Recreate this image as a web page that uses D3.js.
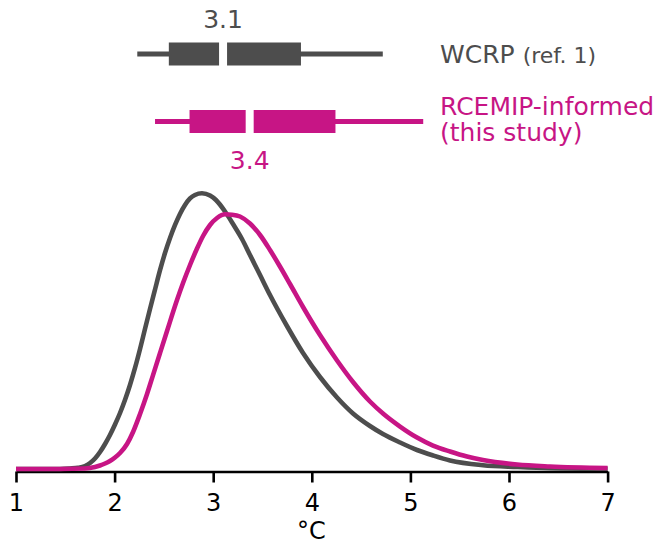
<!DOCTYPE html>
<html>
<head>
<meta charset="utf-8">
<script src="https://cdn.jsdelivr.net/npm/d3@7"></script>
<style>
  html, body { margin: 0; padding: 0; background: #fff; }
  svg { display: block; font-family: "DejaVu Sans", sans-serif; }
</style>
</head>
<body>
<div id="chart"></div>
<script>
// ECS probability densities (°C, density)
const wcrpX = [1.0, 1.446, 1.548, 1.629, 1.700, 1.751, 1.801, 1.852, 1.903, 1.953, 2.004, 2.055, 2.105, 2.156, 2.207, 2.258, 2.308, 2.359, 2.410, 2.460, 2.511, 2.562, 2.613, 2.663, 2.714, 2.765, 2.815, 2.886, 2.968, 3.028, 3.120, 3.201, 3.292, 3.373, 3.475, 3.576, 3.748, 3.911, 4.083, 4.256, 4.418, 4.590, 4.722, 4.895, 5.067, 5.229, 5.402, 5.736, 6.081, 6.416, 7.0];
const wcrpY = [0, 0, 0.0009, 0.0022, 0.0055, 0.0110, 0.0192, 0.0311, 0.0457, 0.0621, 0.0813, 0.1023, 0.1260, 0.1534, 0.1845, 0.2192, 0.2557, 0.2922, 0.3279, 0.3626, 0.3945, 0.4219, 0.4457, 0.4658, 0.4822, 0.4941, 0.5005, 0.5036, 0.4995, 0.4913, 0.4703, 0.4475, 0.4201, 0.3909, 0.3543, 0.3178, 0.2612, 0.2119, 0.1680, 0.1306, 0.1014, 0.0785, 0.0639, 0.0484, 0.0347, 0.0247, 0.0155, 0.0069, 0.0037, 0.0015, 0.0004];

const rcemipX = [1.0, 1.446, 1.700, 1.801, 1.852, 1.903, 1.953, 2.004, 2.055, 2.126, 2.187, 2.258, 2.329, 2.389, 2.460, 2.531, 2.633, 2.694, 2.765, 2.836, 2.897, 2.968, 3.039, 3.120, 3.191, 3.272, 3.373, 3.475, 3.576, 3.677, 3.779, 3.911, 4.083, 4.256, 4.418, 4.590, 4.722, 4.895, 5.067, 5.229, 5.402, 5.574, 5.736, 6.081, 6.416, 7.0];
const rcemipY = [0, 0, 0.0009, 0.0037, 0.0064, 0.0100, 0.0146, 0.0210, 0.0292, 0.0457, 0.0676, 0.1005, 0.1370, 0.1711, 0.2115, 0.2517, 0.3087, 0.3397, 0.3726, 0.4027, 0.4256, 0.4457, 0.4584, 0.4652, 0.4645, 0.4612, 0.4484, 0.4274, 0.4000, 0.3699, 0.3379, 0.2959, 0.2447, 0.1982, 0.1589, 0.1233, 0.1014, 0.0776, 0.0575, 0.0429, 0.0320, 0.0228, 0.0164, 0.0082, 0.0046, 0.0018];

// box summaries: 5%, 17%, median, 83%, 95%
const wcrpBox = [2.23, 2.55, 3.1, 3.89, 4.72];
const rcemipBox = [2.41, 2.76, 3.37, 4.24, 5.13];
const medianLabels = ['3.1', '3.4'];

const xTicks = [1, 2, 3, 4, 5, 6, 7];

const GREY = '#4d4d4d';
const MAGENTA = '#c71585';

const width = 659, height = 544;
const svg = d3.select('#chart').append('svg')
  .attr('width', width).attr('height', height);

const x = d3.scaleLinear().domain([1, 7]).range([16, 607.6]);
const y = d3.scaleLinear().domain([0, 0.55]).range([469, 469 - 0.55 * 547.5]);

// x axis
const axis = svg.append('g')
  .attr('transform', 'translate(0,471.5)')
  .call(d3.axisBottom(x).tickValues(xTicks).tickSize(11).tickSizeOuter(0).tickPadding(11).tickFormat(d3.format('d')));
axis.select('.domain').attr('stroke', '#000').attr('stroke-width', 2.6);
axis.selectAll('.tick line').attr('stroke', '#000').attr('stroke-width', 2.6);
axis.selectAll('.tick text').attr('fill', '#000').attr('font-size', 24)
  .attr('font-family', '"DejaVu Sans", sans-serif');

svg.append('text')
  .attr('x', 311.5).attr('y', 539)
  .attr('text-anchor', 'middle').attr('font-size', 24).attr('fill', '#000')
  .text('°C');

// density curves
const line = d3.line().x(d => x(d[0])).y(d => y(d[1])).curve(d3.curveMonotoneX);
const series = [
  { xs: wcrpX, ys: wcrpY, color: GREY },
  { xs: rcemipX, ys: rcemipY, color: MAGENTA }
];
series.forEach(s => {
  svg.append('path')
    .datum(s.xs.map((v, i) => [v, s.ys[i]]))
    .attr('d', line)
    .attr('fill', 'none')
    .attr('stroke', s.color)
    .attr('stroke-width', 4.6)
    .attr('stroke-linejoin', 'round');
});

// box plots above the curves
const boxes = [
  { b: wcrpBox, cy: 54, color: GREY, label: medianLabels[0], ly: 28 },
  { b: rcemipBox, cy: 121.5, color: MAGENTA, label: medianLabels[1], ly: 169 }
];
boxes.forEach(o => {
  const g = svg.append('g');
  g.append('line')
    .attr('x1', x(o.b[0])).attr('x2', x(o.b[4]))
    .attr('y1', o.cy).attr('y2', o.cy)
    .attr('stroke', o.color).attr('stroke-width', 5);
  g.append('rect')
    .attr('x', x(o.b[1])).attr('width', x(o.b[3]) - x(o.b[1]))
    .attr('y', o.cy - 11.5).attr('height', 23)
    .attr('fill', o.color);
  g.append('line')
    .attr('x1', x(o.b[2])).attr('x2', x(o.b[2]))
    .attr('y1', o.cy - 13).attr('y2', o.cy + 13)
    .attr('stroke', '#fff').attr('stroke-width', 8);
  g.append('text')
    .attr('x', x(o.b[2])).attr('y', o.ly)
    .attr('text-anchor', 'middle').attr('font-size', 25).attr('fill', o.color)
    .text(o.label);
});

// legend labels
const wc = svg.append('text').attr('x', 440).attr('y', 63).attr('fill', GREY).attr('font-size', 25);
wc.append('tspan').text('WCRP');
wc.append('tspan').attr('font-size', 22).attr('dx', 8).text('(ref. 1)');

const rc = svg.append('text').attr('x', 440).attr('fill', MAGENTA).attr('font-size', 25);
rc.append('tspan').attr('x', 440).attr('y', 115).text('RCEMIP-informed');
rc.append('tspan').attr('x', 440).attr('y', 141).text('(this study)');
</script>
</body>
</html>
